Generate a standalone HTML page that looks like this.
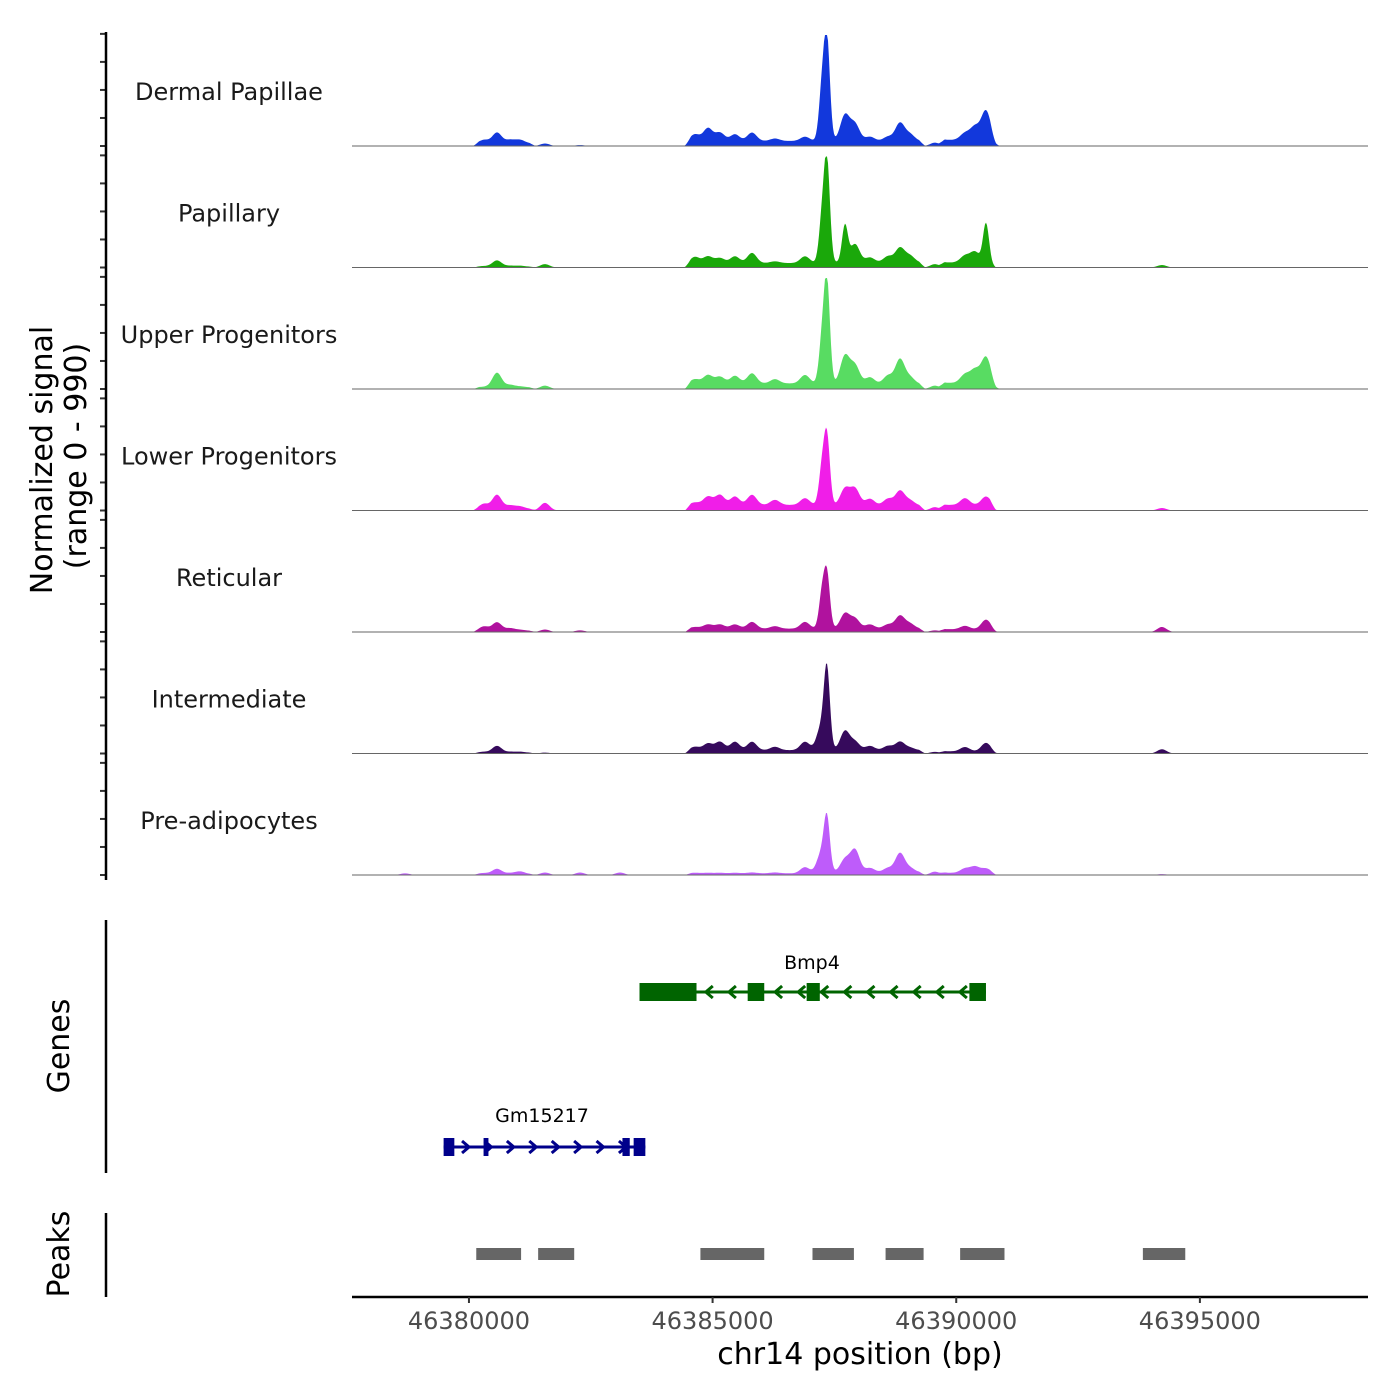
<!DOCTYPE html>
<html><head><meta charset="utf-8">
<style>
html,body{margin:0;padding:0;background:#fff;}
svg{display:block;font-family:"DejaVu Sans","Liberation Sans",sans-serif;}
</style></head>
<body>
<svg id="chart" width="1400" height="1400" viewBox="0 0 1400 1400" xmlns="http://www.w3.org/2000/svg"></svg>
<script>
const trackNames = ["Dermal Papillae","Papillary","Upper Progenitors","Lower Progenitors","Reticular","Intermediate","Pre-adipocytes"];
const trackColors = ["#1238dc","#1aa80a","#58dc62","#f01ee8","#b0129e","#360a5c","#be5cfa"];
const peakPos = [46378688,46380309,46380575,46380842,46381047,46381560,46382279,46383099,46384638,46384905,46385151,46385459,46385808,46386280,46386896,46387244,46387347,46387716,46387922,46388229,46388599,46388845,46389050,46389563,46390179,46390384,46390610,46394221];
const sigDermal = [5,30,95,30,30,22,8,5,60,115,75,60,75,22,38,480,930,230,150,38,38,160,60,30,60,115,260,5];
const sigPapillary = [3,5,55,8,8,30,5,3,55,60,45,60,90,15,60,400,930,330,165,45,55,130,60,30,60,95,350,22];
const sigUpper = [3,5,130,22,8,30,5,3,38,75,60,68,90,38,75,400,940,250,165,60,75,220,60,30,75,115,230,5];
const sigLower = [3,45,125,30,22,68,5,3,22,75,90,75,90,45,60,350,640,150,150,60,60,130,45,30,60,0,75,22];
const sigReticular = [3,38,75,22,8,22,15,3,15,38,38,38,60,22,60,320,500,135,90,38,38,115,45,15,30,0,85,45];
const sigIntermediate = [3,8,60,8,8,8,5,3,30,60,75,75,75,30,75,240,670,170,75,38,38,75,22,15,38,0,75,38];
const sigPreadipo = [15,8,45,8,22,22,22,22,5,5,5,5,8,8,55,200,440,115,200,38,38,170,38,30,38,55,38,8];
const signals = [sigDermal,sigPapillary,sigUpper,sigLower,sigReticular,sigIntermediate,sigPreadipo];
const bgStart = [46380150,46384500,46387400,46389700];
const bgEnd = [46381300,46387200,46389300,46390750];
const bgDermal = [25,45,45,55];
const bgPapillary = [8,40,45,45];
const bgUpper = [15,50,45,55];
const bgLower = [15,50,45,50];
const bgReticular = [12,30,30,25];
const bgIntermediate = [8,30,30,20];
const bgPreadipo = [10,15,25,20];
const backgrounds = [bgDermal,bgPapillary,bgUpper,bgLower,bgReticular,bgIntermediate,bgPreadipo];
const xTicks = [46380000,46385000,46390000,46395000];
const xTickLabels = ["46380000","46385000","46390000","46395000"];
const peakStarts = [46380150,46381420,46384750,46387050,46388550,46390080,46393830];
const peakEnds = [46381070,46382160,46386060,46387900,46389330,46390990,46394700];
const bmp4Exons = [[46383500,46384670],[46385720,46386060],[46386930,46387200],[46390270,46390610]];
const gmExons = [[46379480,46379700],[46380300,46380400],[46383150,46383300],[46383380,46383620]];

const NS="http://www.w3.org/2000/svg";
const svg=document.getElementById('chart');
const X0=352,X1=1368,G0=46377600,G1=46398450;
function xs(g){return X0+(g-G0)/(G1-G0)*(X1-X0);}
const trackH=121.5, base0=146, vmax=990, pxMax=111;
function ys(v,b){return b - v/vmax*pxMax;}
function el(tag,attrs,parent){const e=document.createElementNS(NS,tag);for(const k in attrs)e.setAttribute(k,attrs[k]);(parent||svg).appendChild(e);return e;}
function txt(s,attrs){const t=el('text',attrs);t.textContent=s;return t;}
function plateau(g,s,e,lvl){const w=120;const a=Math.min(1,Math.max(0,(g-s)/w+0.5));const c=Math.min(1,Math.max(0,(e-g)/w+0.5));return lvl*Math.min(a,c);}

for(let t=0;t<trackNames.length;t++){
  const b=base0+t*trackH;
  const vals=signals[t], bg=backgrounds[t];
  let d=`M${X0},${b}`;
  for(let px=X0;px<=X1;px+=1){
    const g=G0+(px-X0)/(X1-X0)*(G1-G0);
    let v=0;
    for(let i=0;i<peakPos.length;i++){
      const s=(vals[i]>300)?60:95;
      const dz=(g-peakPos[i])/s;
      if(Math.abs(dz)<5) v+=vals[i]*Math.exp(-0.5*dz*dz);
    }
    for(let j=0;j<bgStart.length;j++) v+=plateau(g,bgStart[j],bgEnd[j],bg[j]);
    if(v>vmax)v=vmax;
    d+=`L${px},${ys(v,b).toFixed(2)}`;
  }
  d+=`L${X1},${b}Z`;
  const p=el('path',{d:d,fill:trackColors[t]});
  
  
  const ln=el('line',{x1:X0,x2:X1,y1:b,y2:b,stroke:'#666','stroke-width':1});
  
  
  const lab=txt(trackNames[t],{x:229,y:b-46,'text-anchor':'middle','font-size':24,fill:'#1a1a1a'});
  
  
  for(let k=0;k<5;k++){
    const ty=ys(k*250,b);
    const tk=el('line',{x1:100,x2:106,y1:ty,y2:ty,stroke:'#333','stroke-width':2});
    
    
  }
}
let a=el('line',{x1:106,x2:106,y1:32,y2:880,stroke:'#000','stroke-width':2.5});

let t1=txt('Normalized signal',{x:0,y:0,'text-anchor':'middle','font-size':30,fill:'#000',transform:'translate(52,460) rotate(-90)'});

let t2=txt('(range 0 - 990)',{x:0,y:0,'text-anchor':'middle','font-size':30,fill:'#000',transform:'translate(86,456) rotate(-90)'});


a=el('line',{x1:106,x2:106,y1:920,y2:1173,stroke:'#000','stroke-width':2.5});

let gt=txt('Genes',{x:0,y:0,'text-anchor':'middle','font-size':30,fill:'#000',transform:'translate(69,1046) rotate(-90)'});


function gene(name,exons,y,color,dir,labelY,labelX){
  const s=exons[0][0], e=exons[exons.length-1][1];
  const gl=el('line',{x1:xs(s),x2:xs(e),y1:y,y2:y,stroke:color,'stroke-width':3});
  
  const n=Math.floor((xs(e)-xs(s))/22);
  for(let i=1;i<n;i++){
    const cx=xs(s)+i*(xs(e)-xs(s))/n;
    const dd = dir<0 ? `M${cx+4},${y-6}L${cx-3},${y}L${cx+4},${y+6}` : `M${cx-4},${y-6}L${cx+3},${y}L${cx-4},${y+6}`;
    const ar=el('path',{d:dd,stroke:color,'stroke-width':3,fill:'none'});
    
  }
  exons.forEach(ex=>{
    const r=el('rect',{x:xs(ex[0]),y:y-9,width:Math.max(3,xs(ex[1])-xs(ex[0])),height:18,fill:color});
    
  });
  const lb=txt(name,{x:labelX,y:labelY,'text-anchor':'middle','font-size':19,fill:'#000'});
  
}
gene('Bmp4',bmp4Exons,992,'#006400',-1,969,812);
gene('Gm15217',gmExons,1147,'#00008b',1,1122,542);

a=el('line',{x1:106,x2:106,y1:1213,y2:1297,stroke:'#000','stroke-width':2.5});

let pt=txt('Peaks',{x:0,y:0,'text-anchor':'middle','font-size':30,fill:'#000',transform:'translate(69,1254) rotate(-90)'});

for(let i=0;i<peakStarts.length;i++){
  const r=el('rect',{x:xs(peakStarts[i]),y:1248,width:xs(peakEnds[i])-xs(peakStarts[i]),height:12,fill:'#666'});
  
}

a=el('line',{x1:X0,x2:X1,y1:1297,y2:1297,stroke:'#000','stroke-width':2.5});

for(let i=0;i<xTicks.length;i++){
  const x=xs(xTicks[i]);
  const tk=el('line',{x1:x,x2:x,y1:1297,y2:1303,stroke:'#333','stroke-width':2});
  
  const tl=txt(xTickLabels[i],{x:x,y:1329,'text-anchor':'middle','font-size':24,fill:'#4d4d4d'});
  
}
const xt=txt('chr14 position (bp)',{x:860,y:1364,'text-anchor':'middle','font-size':30,fill:'#000'});

</script>
</body></html>
